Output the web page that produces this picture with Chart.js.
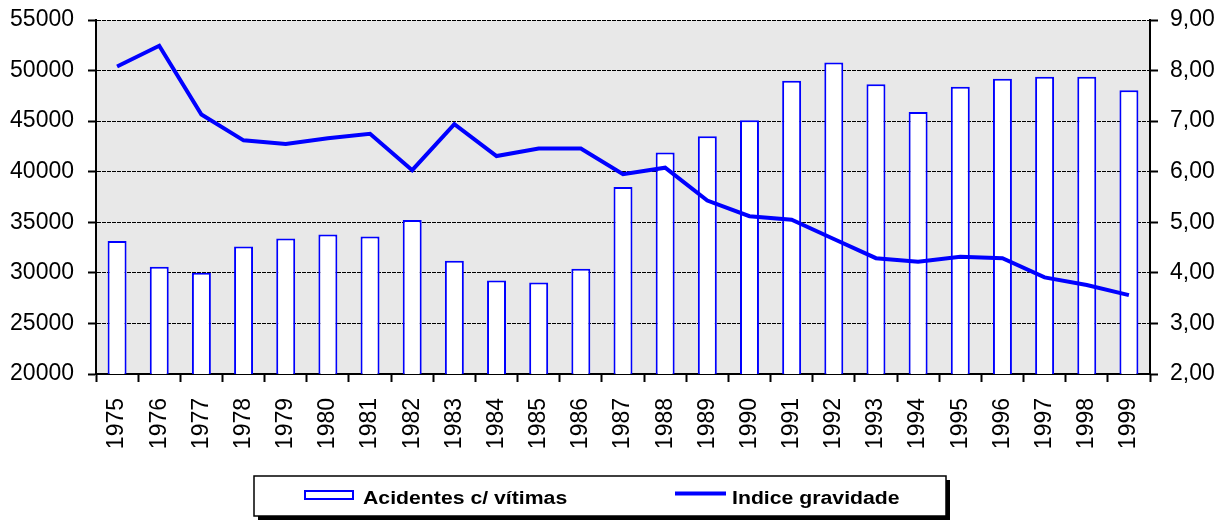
<!DOCTYPE html>
<html>
<head>
<meta charset="utf-8">
<script src="https://cdn.jsdelivr.net/npm/chart.js@4.4.1/dist/chart.umd.min.js"></script>
<style>
  html, body { margin: 0; padding: 0; background: #ffffff; }
  #wrap { width: 1228px; height: 521px; position: relative; }
</style>
</head>
<body>
<div id="wrap"><canvas id="c" width="1228" height="521"></canvas></div>
<script>
const years = ['1975','1976','1977','1978','1979','1980','1981','1982','1983','1984','1985','1986','1987','1988','1989','1990','1991','1992','1993','1994','1995','1996','1997','1998','1999'];
const acidentes = [33150, 30600, 30000, 32600, 33400, 33800, 33600, 35230, 31200, 29250, 29050, 30400, 38500, 41900, 43500, 45100, 49000, 50800, 48650, 45900, 48400, 49200, 49400, 49400, 48050];
const indice = [8.08, 8.49, 7.13, 6.62, 6.55, 6.66, 6.75, 6.03, 6.94, 6.31, 6.46, 6.46, 5.95, 6.08, 5.43, 5.12, 5.05, 4.67, 4.29, 4.22, 4.32, 4.29, 3.91, 3.76, 3.56];
const leftTicks = ['20000','25000','30000','35000','40000','45000','50000','55000'];
const rightTicks = ['2,00','3,00','4,00','5,00','6,00','7,00','8,00','9,00'];
const seriesNames = ['Acidentes c/ vítimas', 'Indice gravidade'];

const BLUE = '#0000ff';
const tickFont = { family: "'Liberation Sans', Arial, sans-serif", size: 23 };

const bgPlugin = {
  id: 'bg',
  beforeDraw(chart) {
    const { ctx, chartArea: a } = chart;
    ctx.save();
    ctx.fillStyle = '#ffffff';
    ctx.fillRect(0, 0, chart.width, chart.height);
    ctx.fillStyle = '#e8e8e8';
    ctx.fillRect(a.left, a.top, a.right - a.left, a.bottom - a.top);
    ctx.restore();
  }
};

const legendPlugin = {
  id: 'boxLegend',
  afterDraw(chart) {
    const ctx = chart.ctx;
    const ds = chart.data.datasets;
    const fx = 254, fy = 476, fw = 692, fh = 40;
    ctx.save();
    ctx.fillStyle = '#000';
    ctx.fillRect(fx + 4, fy + 4, fw, fh);
    ctx.fillStyle = '#fff';
    ctx.fillRect(fx, fy, fw, fh);
    ctx.strokeStyle = '#000';
    ctx.lineWidth = 1.5;
    ctx.strokeRect(fx, fy, fw, fh);
    ctx.fillStyle = ds[0].backgroundColor;
    ctx.fillRect(305, 491, 48, 8);
    ctx.strokeStyle = ds[0].borderColor;
    ctx.lineWidth = 2;
    ctx.strokeRect(305, 491, 48, 8);
    ctx.strokeStyle = ds[1].borderColor;
    ctx.lineWidth = 4;
    ctx.beginPath();
    ctx.moveTo(675, 493.5);
    ctx.lineTo(726, 493.5);
    ctx.stroke();
    ctx.fillStyle = '#000';
    ctx.font = "bold 18px 'Liberation Sans', Arial, sans-serif";
    ctx.textBaseline = 'alphabetic';
    ctx.textAlign = 'left';
    const sx = 1.18;
    ctx.save();
    ctx.translate(363, 504);
    ctx.scale(sx, 1);
    ctx.fillText(ds[0].label, 0, 0);
    ctx.restore();
    ctx.save();
    ctx.translate(732, 504);
    ctx.scale(sx, 1);
    ctx.fillText(ds[1].label, 0, 0);
    ctx.restore();
    ctx.restore();
  }
};

function fixV(w) {
  return function (s) { s.width = w; s.paddingTop = 0; s.paddingBottom = 0; };
}

new Chart(document.getElementById('c'), {
  data: {
    labels: years,
    datasets: [
      {
        type: 'bar',
        label: seriesNames[0],
        data: acidentes,
        yAxisID: 'y',
        backgroundColor: '#ffffff',
        borderColor: BLUE,
        borderWidth: 2,
        barPercentage: 0.45,
        categoryPercentage: 1.0,
        order: 1
      },
      {
        type: 'line',
        label: seriesNames[1],
        data: indice,
        yAxisID: 'y1',
        borderColor: BLUE,
        backgroundColor: BLUE,
        borderWidth: 4,
        pointRadius: 0,
        tension: 0,
        order: 0
      }
    ]
  },
  options: {
    responsive: false,
    animation: false,
    devicePixelRatio: 1,
    layout: { padding: { top: 20, left: 0, right: 0, bottom: 0 } },
    plugins: {
      legend: { display: false },
      tooltip: { enabled: false }
    },
    scales: {
      x: {
        type: 'category',
        offset: true,
        grid: { offset: true, drawOnChartArea: false, drawTicks: true, tickLength: 8, tickColor: '#000', tickWidth: 2 },
        border: { display: true, color: '#000', width: 2 },
        ticks: { minRotation: 90, maxRotation: 90, autoSkip: false, padding: 16, color: '#000', font: tickFont },
        afterFit(s) { s.height = 147; s.paddingLeft = 0; s.paddingRight = 0; }
      },
      y: {
        position: 'left',
        min: 20000,
        max: 55000,
        grid: { color: '#000', lineWidth: 1, drawTicks: true, tickLength: 8, tickColor: '#000', tickWidth: 2 },
        border: { display: true, color: '#000', width: 2, dash: [4, 1] },
        ticks: {
          stepSize: 5000,
          padding: 14,
          color: '#000',
          font: tickFont,
          callback: (v, i) => leftTicks[i]
        },
        afterFit: fixV(96)
      },
      y1: {
        position: 'right',
        min: 2,
        max: 9,
        grid: { drawOnChartArea: false, drawTicks: true, tickLength: 8, tickColor: '#000', tickWidth: 2 },
        border: { display: true, color: '#000', width: 2 },
        ticks: {
          stepSize: 1,
          padding: 12,
          color: '#000',
          font: tickFont,
          callback: (v, i) => rightTicks[i]
        },
        afterFit: fixV(78)
      }
    }
  },
  plugins: [bgPlugin, legendPlugin]
});
</script>
</body>
</html>
